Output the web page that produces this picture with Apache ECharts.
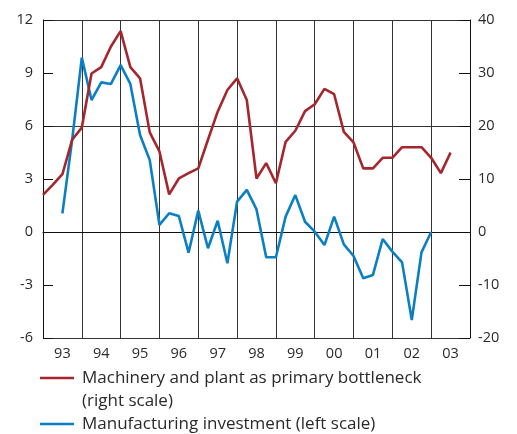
<!DOCTYPE html>
<html>
<head>
<meta charset="utf-8">
<script src="https://cdn.jsdelivr.net/npm/echarts@6/dist/echarts.min.js"></script>
<style>
html,body{margin:0;padding:0;background:#fff;}
#c{width:517px;height:434px;}
</style>
</head>
<body>
<div id="c"></div>
<script>
// Year labels (each year = 4 quarters, starting 1993 Q1 at quarter index 0)
var years = ['93','94','95','96','97','98','99','00','01','02','03'];
// Machinery and plant as primary bottleneck (right scale), quarterly from 93 Q1
var machinery = [7.0, 8.9, 10.9, 17.4, 19.7, 29.9, 31.1, 35.0, 37.9, 31.1, 29.0, 18.8,
                 15.2, 7.1, 10.1, 11.1, 12.0, 17.4, 22.7, 26.8, 29.0, 24.9, 10.1, 13.0,
                 9.2, 17.0, 19.1, 22.8, 24.1, 27.0, 26.0, 18.9, 16.9, 12.0, 12.0, 14.0,
                 14.0, 16.0, 16.0, 16.0, 14.0, 11.1, 15.0];
// Manufacturing investment (left scale), quarterly from 93 Q1
var investment = [null, null, 1.05, 5.2, 9.87, 7.47, 8.47, 8.38, 9.45, 8.38, 5.49, 4.07,
                  0.4, 1.06, 0.9, -1.17, 1.21, -0.92, 0.64, -1.77, 1.72, 2.38, 1.28, -1.43,
                  -1.43, 0.87, 2.09, 0.58, 0.02, -0.74, 0.87, -0.7, -1.36, -2.62, -2.43, -0.4,
                  -1.11, -1.72, -4.98, -1.15, 0.0];
var leftTicks = {min: -6, max: 12, interval: 3};
var rightTicks = {min: -20, max: 40, interval: 10};

var nameRed = 'Machinery and plant as primary bottleneck\n(right scale)';
var nameBlue = 'Manufacturing investment (left scale)';
var RED = '#A6262D', BLUE = '#0A7FC4', TXT = '#2a2a2a', GRIDC = '#333';
var FONT = 'Open Sans';

function pairs(arr){ return arr.map(function(v,i){ return [i, v]; }); }

var chart = echarts.init(document.getElementById('c'), null, {renderer:'canvas'});
chart.setOption({
  animation: false,
  grid: {left: 43, right: 47, top: 20, bottom: 96, containLabel: false},
  textStyle: {fontFamily: FONT},
  legend: {
    orient: 'vertical', left: 40, top: 343.5, padding: 0, itemGap: 0,
    icon: 'rect', itemWidth: 34, itemHeight: 2.5,
    formatter: function(name){ return name === nameRed ? '\n' + name : name; },
    textStyle: {fontFamily: FONT, fontSize: 17, color: TXT, lineHeight: 23, padding: [0,0,0,3]},
    data: [nameRed, nameBlue]
  },
  xAxis: [
    {type: 'value', min: 0, max: years.length*4, interval: 4,
     axisLine: {show: true, lineStyle: {color: '#111', width: 1}},
     axisTick: {show: false}, axisLabel: {show: false},
     splitLine: {show: true, lineStyle: {color: GRIDC, width: 1}}},
    {type: 'category', data: years, position: 'bottom', boundaryGap: true,
     axisLine: {show: false}, axisTick: {show: false}, splitLine: {show: false},
     axisLabel: {fontFamily: FONT, fontSize: 14.5, color: TXT, margin: 8}}
  ],
  yAxis: [
    {type: 'value', min: leftTicks.min, max: leftTicks.max, interval: leftTicks.interval, position: 'left',
     axisLine: {show: true, lineStyle: {color: '#111', width: 1}},
     axisTick: {show: true, inside: true, length: 10, lineStyle: {color: '#111'}},
     axisLabel: {fontFamily: FONT, fontSize: 14.5, color: TXT, margin: 10},
     splitLine: {show: false}},
    {type: 'value', min: rightTicks.min, max: rightTicks.max, interval: rightTicks.interval, position: 'right',
     axisLine: {show: true, lineStyle: {color: '#111', width: 1}},
     axisTick: {show: true, inside: true, length: 11, lineStyle: {color: '#111'}},
     axisLabel: {fontFamily: FONT, fontSize: 14.5, color: TXT, margin: 8},
     splitLine: {show: false}},
    {type: 'value', min: leftTicks.min, max: leftTicks.max, interval: leftTicks.interval*2, position: 'left',
     axisLine: {show: false}, axisTick: {show: false}, axisLabel: {show: false},
     splitLine: {show: true, lineStyle: {color: GRIDC, width: 1}}}
  ],
  series: [
    {name: nameBlue, type: 'line', xAxisIndex: 0, yAxisIndex: 0, data: pairs(investment),
     showSymbol: false, symbol: 'none', connectNulls: false,
     lineStyle: {color: BLUE, width: 2.6}, itemStyle: {color: BLUE}},
    {name: nameRed, type: 'line', xAxisIndex: 0, yAxisIndex: 1, data: pairs(machinery),
     showSymbol: false, symbol: 'none',
     lineStyle: {color: RED, width: 2.6}, itemStyle: {color: RED}}
  ]
});
</script>
</body>
</html>
